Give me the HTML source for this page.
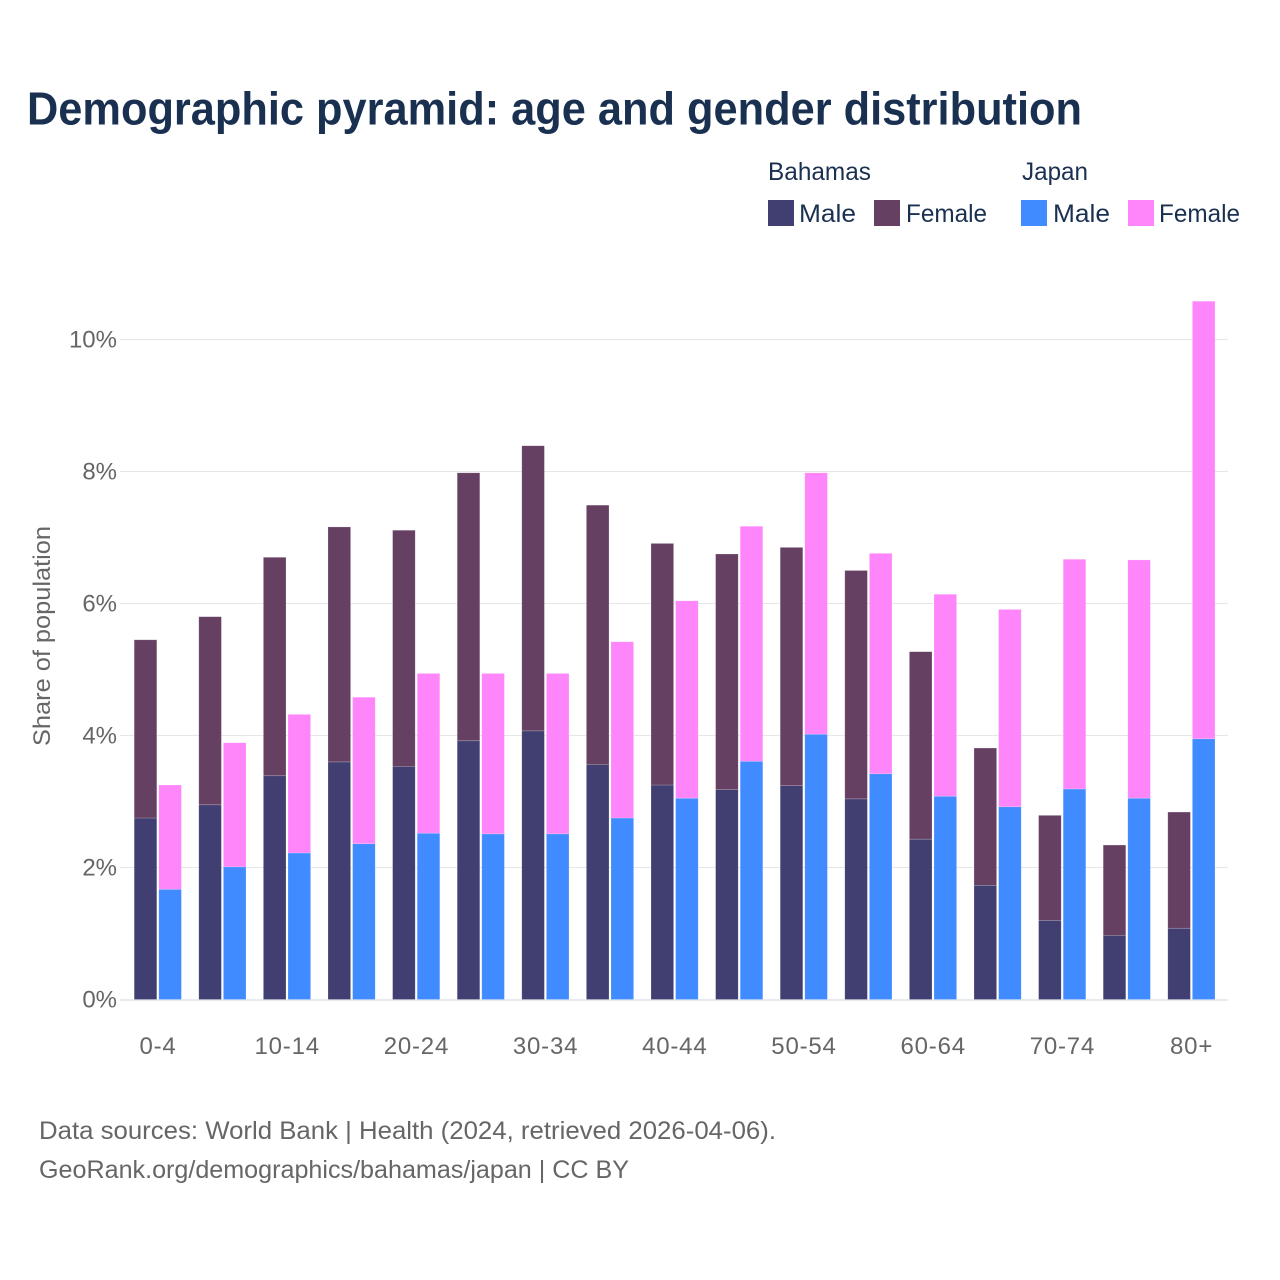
<!DOCTYPE html>
<html lang="en">
<head>
<meta charset="utf-8">
<title>Demographic pyramid</title>
<style>
html,body{margin:0;padding:0;background:#fff;width:1280px;height:1280px;overflow:hidden}
svg{display:block}
text{font-family:"Liberation Sans",sans-serif}
</style>
</head>
<body>
<svg id="chart" xmlns="http://www.w3.org/2000/svg" width="1280" height="1280" viewBox="0 0 1280 1280">
  <rect x="0" y="0" width="1280" height="1280" fill="#ffffff"/>
  <text x="27" y="124.5" font-size="46" font-weight="700" fill="#1a3050" textLength="1055" lengthAdjust="spacingAndGlyphs">Demographic pyramid: age and gender distribution</text>

  <g font-size="25" fill="#1a3050">
    <text x="768" y="180" textLength="103" lengthAdjust="spacingAndGlyphs">Bahamas</text>
    <text x="1022" y="180" textLength="66" lengthAdjust="spacingAndGlyphs">Japan</text>
    <rect x="768" y="200" width="26" height="26" fill="#413f71"/>
    <text x="799" y="222" textLength="57" lengthAdjust="spacingAndGlyphs">Male</text>
    <rect x="874" y="200" width="26" height="26" fill="#664063"/>
    <text x="906" y="222" textLength="81" lengthAdjust="spacingAndGlyphs">Female</text>
    <rect x="1021" y="200" width="26" height="26" fill="#3f8bff"/>
    <text x="1053" y="222" textLength="57" lengthAdjust="spacingAndGlyphs">Male</text>
    <rect x="1128" y="200" width="26" height="26" fill="#ff85fb"/>
    <text x="1159" y="222" textLength="81" lengthAdjust="spacingAndGlyphs">Female</text>
  </g>

  <g id="grid"></g>
  <g id="bars"></g>
  <g id="ylabels"></g>
  <g id="xlabels"></g>

  <text transform="translate(50,636) rotate(-90)" text-anchor="middle" font-size="24" fill="#666666" textLength="220" lengthAdjust="spacingAndGlyphs">Share of population</text>

  <text x="39" y="1139" font-size="25" fill="#666666" textLength="737" lengthAdjust="spacingAndGlyphs">Data sources: World Bank | Health (2024, retrieved 2026-04-06).</text>
  <text x="39" y="1178" font-size="25" fill="#666666" textLength="590" lengthAdjust="spacingAndGlyphs">GeoRank.org/demographics/bahamas/japan | CC BY</text>
</svg>
<script>
const ageGroups = ["0-4","5-9","10-14","15-19","20-24","25-29","30-34","35-39","40-44","45-49","50-54","55-59","60-64","65-69","70-74","75-79","80+"];
const xTickLabels = ["0-4","","10-14","","20-24","","30-34","","40-44","","50-54","","60-64","","70-74","","80+"];
const yTicks = [0,2,4,6,8,10];
const bahamasMale = [2.75,2.95,3.39,3.60,3.53,3.92,4.07,3.56,3.25,3.18,3.24,3.04,2.43,1.73,1.20,0.97,1.08];
const bahamasFemale = [2.70,2.85,3.31,3.56,3.58,4.06,4.32,3.93,3.66,3.57,3.61,3.46,2.84,2.08,1.59,1.37,1.76];
const japanMale = [1.67,2.01,2.22,2.36,2.52,2.51,2.51,2.75,3.05,3.61,4.02,3.42,3.08,2.92,3.19,3.05,3.95];
const japanFemale = [1.58,1.88,2.10,2.22,2.42,2.43,2.43,2.67,2.99,3.56,3.96,3.34,3.06,2.99,3.48,3.61,6.63];

const NS = "http://www.w3.org/2000/svg";
function yScale(v) { return 999.5 - v * 66; }
function xScale(i) { return 158 + i * 64.6; }
const barWidth = 22.6;

function make(tag, parent, attrs) {
  const el = document.createElementNS(NS, tag);
  for (const k in attrs) el.setAttribute(k, attrs[k]);
  parent.appendChild(el);
  return el;
}

const grid = document.getElementById("grid");
const ylabels = document.getElementById("ylabels");
yTicks.forEach(function (t) {
  const line = make("rect", grid, {x: 120, y: yScale(t) - 0.5, width: 1108, height: t === 0 ? 2 : 1, fill: t === 0 ? "#e6ebf0" : "#e6e6e6"});
  
  
  const label = make("text", ylabels, {x: 117, y: yScale(t) + 8, "text-anchor": "end", "font-size": 24, fill: "#666666"});
  label.textContent = t + "%";
  
  
});

const xlabels = document.getElementById("xlabels");
xTickLabels.forEach(function (t, i) {
  if (!t) return;
  const label = make("text", xlabels, {x: xScale(i), y: 1054, "text-anchor": "middle", "font-size": 24, "letter-spacing": 0.8, fill: "#666666"});
  label.textContent = t;
  
  
});

const bars = document.getElementById("bars");
function bar(x, v0, v1, fill, seriesName) {
  const top = yScale(v1);
  const rect = make("rect", bars, {x: x, y: top, width: barWidth, height: yScale(v0) - top, fill: fill, stroke: "#ffffff", "stroke-opacity": 0.3, "stroke-width": 0.6});
  
  
}
ageGroups.forEach(function (g, i) {
  const c = xScale(i);
  const bx = c - 23.8;
  const jx = c + 0.8;
  bar(bx, 0, bahamasMale[i], "#413f71", "bar-bahamas-male");
  bar(bx, bahamasMale[i], bahamasMale[i] + bahamasFemale[i], "#664063", "bar-bahamas-female");
  bar(jx, 0, japanMale[i], "#3f8bff", "bar-japan-male");
  bar(jx, japanMale[i], japanMale[i] + japanFemale[i], "#ff85fb", "bar-japan-female");
});
</script>
</body>
</html>
